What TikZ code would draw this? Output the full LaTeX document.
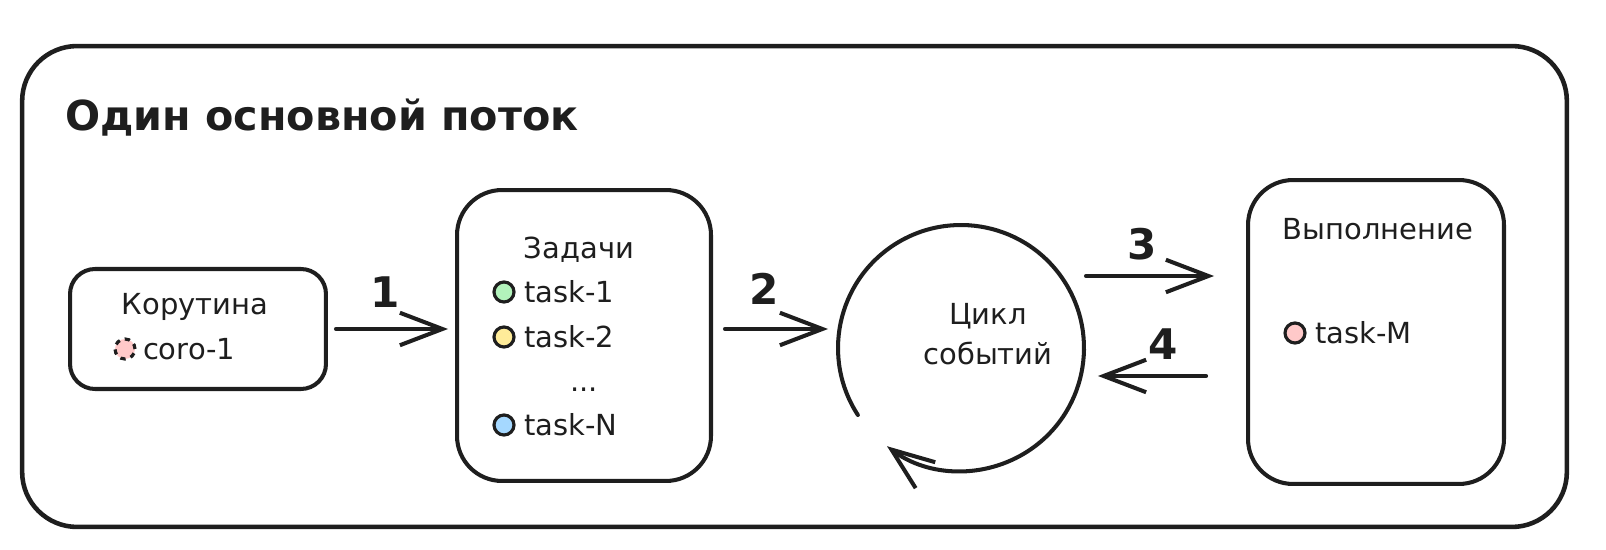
\documentclass[tikz,border=0pt]{standalone}
\usepackage{fontspec}
\setmainfont{DejaVu Sans}
\usetikzlibrary{arrows.meta}
\definecolor{ink}{HTML}{1E1E1E}
\definecolor{mint}{HTML}{B2F2BB}
\definecolor{lemon}{HTML}{FFEC99}
\definecolor{sky}{HTML}{A5D8FF}
\definecolor{rose}{HTML}{FFC9C9}

\begin{document}
\begin{tikzpicture}[x=0.02cm, y=0.02cm, line width=2.3pt, color=ink,
    box/.style={draw, rounded corners=0.9cm, inner sep=0pt, outer sep=0pt},
    dot/.style={circle, draw, line width=1.8pt, minimum size=0.4cm, inner sep=0pt},
    txt/.style={font=\fontsize{16.5}{20}\selectfont, inner sep=0pt},
    title/.style={font=\fontsize{23.5}{28}\selectfont\bfseries, inner sep=0pt},
    num/.style={font=\fontsize{24}{30}\selectfont\bfseries, inner sep=0pt},
    barb/.style={-{Straight Barb[length=0.85cm, width=0.65cm]}, line cap=round, line join=round}]
    \useasboundingbox (0,0) rectangle (1606,-550);
    \node[box, rounded corners=1.1cm, line width=2.6pt, minimum width=30.9cm, minimum height=9.62cm] (thread) at (794.5,-286.5) {};
    \node[title, anchor=west] (head) at (63,-118) {Один основной поток};

    \node[box, rounded corners=0.5cm, minimum width=5.12cm, minimum height=2.4cm] (coro) at (198,-329) {};
    \node[txt] (corotitle) at (195,-307) {Корутина};
    \node[dot, dashed, fill=rose, draw=ink] (corodot) at (125,-349) {};
    \node[txt, anchor=west] (corotext) at (141,-349) {coro-1};

    \node[box, minimum width=5.08cm, minimum height=5.82cm] (tasks) at (584,-335.5) {};
    \node[txt] (taskstitle) at (579,-250) {Задачи};
    \node[dot, fill=mint] (dot1) at (504,-292) {};
    \node[txt, anchor=west] (task1) at (522,-292) {task-1};
    \node[dot, fill=lemon] (dot2) at (504,-337) {};
    \node[txt, anchor=west] (task2) at (522,-337) {task-2};
    \node[txt, anchor=base] (more) at (584,-392) {...};
    \node[dot, fill=sky] (dotn) at (504,-425) {};
    \node[txt, anchor=west] (taskn) at (522,-425) {task-N};

    \node[circle, minimum size=4.92cm, inner sep=0pt, outer sep=0pt] (loop) at (961,-348) {};
    \node[txt, align=center] (looptext) at (988,-334) {Цикл\\[3pt]событий};
    \draw[barb] (loop.213) arc[start angle=213, end angle=-127, radius=2.46cm];

    \node[box, minimum width=5.12cm, minimum height=6.08cm] (exec) at (1376,-332) {};
    \node[txt] (exectitle) at (1378,-229) {Выполнение};
    \node[dot, fill=rose] (dotm) at (1295,-333) {};
    \node[txt, anchor=west] (taskm) at (1313,-333) {task-M};

    \coordinate (go) at ([yshift=1.12cm]exec.west);
    \coordinate (back) at ([yshift=-0.88cm]exec.west);
    \draw[barb, shorten <=0.2cm, shorten >=0.18cm] (coro.east) -- (coro.east -| tasks.west);
    \draw[barb, shorten <=0.28cm, shorten >=0.2cm] (tasks.east |- coro.east) -- (loop.west |- coro.east);
    \draw[barb, shorten <=0.04cm, shorten >=0.68cm] (loop.east |- go) -- (go);
    \draw[barb, shorten <=0.84cm, shorten >=0.28cm] (back) -- (loop.east |- back);
    \node[num] (n1) at (385,-292) {1};
    \node[num] (n2) at (764,-289) {2};
    \node[num] (n3) at (1142,-244) {3};
    \node[num] (n4) at (1163,-344) {4};
\end{tikzpicture}
\end{document}
